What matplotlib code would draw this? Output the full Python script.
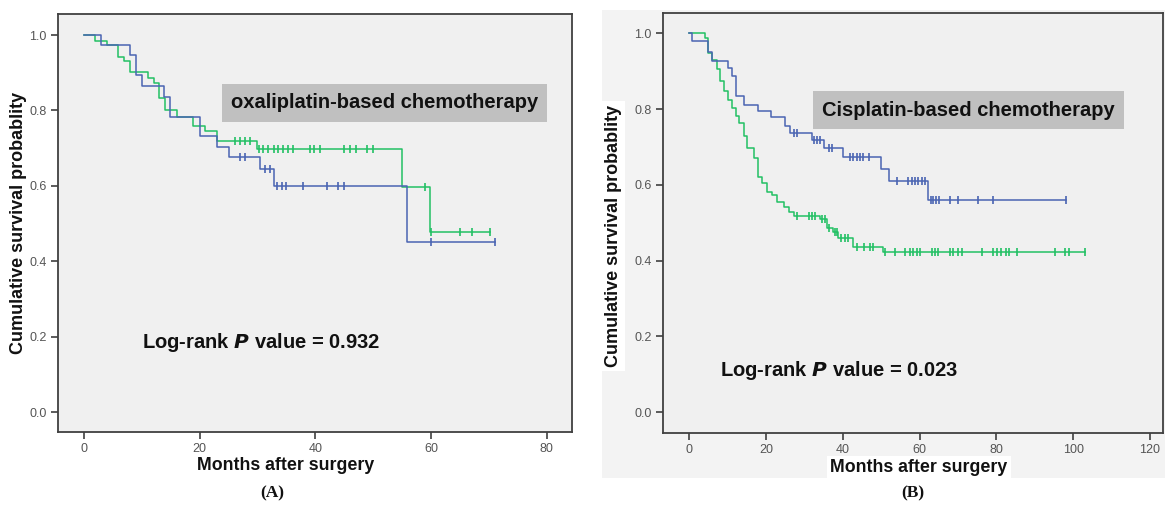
import matplotlib
matplotlib.use("Agg")
import matplotlib.pyplot as plt
from matplotlib.patches import Rectangle

plt.rcParams['font.family'] = ['Liberation Sans', 'DejaVu Sans']

# ---------------- Panel A data (oxaliplatin) ----------------
a_green_t = [0, 1.9, 3.9, 5.9, 7.0, 8.0, 11.1, 12.1, 13.0, 14.0, 16.0, 18.9, 20.9, 23.0, 29.9, 55.0, 59.9]
a_green_s = [1.0, 0.985, 0.973, 0.943, 0.930, 0.901, 0.886, 0.873, 0.833, 0.802, 0.784, 0.758, 0.745, 0.718, 0.698, 0.598, 0.478]
a_green_end = 70.2
a_green_cens = [26.1, 27.0, 27.9, 28.7, 30.2, 31.0, 31.9, 32.8, 33.6, 34.5, 35.3, 36.1, 39.0, 39.8, 40.8,
                45.0, 46.0, 47.1, 48.9, 49.9, 59.0, 60.0, 65.1, 67.1, 70.2]

a_blue_t = [0, 2.9, 8.0, 9.0, 10.0, 13.8, 14.9, 20.1, 23.0, 25.0, 30.4, 32.8, 55.8]
a_blue_s = [1.0, 0.973, 0.948, 0.895, 0.864, 0.837, 0.784, 0.731, 0.704, 0.677, 0.644, 0.600, 0.450]
a_blue_end = 71.1
a_blue_cens = [27.0, 27.9, 31.3, 32.2, 33.3, 34.2, 35.0, 37.9, 42.0, 44.0, 44.9, 60.0, 71.1]

# ---------------- Panel B data (cisplatin) ----------------
b_green_t = [0, 4.2, 5.0, 5.9, 7.2, 8.0, 9.2, 10.1, 11.1, 12.2, 13.1, 14.2, 15.0, 16.8, 18.0, 19.0,
             20.2, 21.5, 23.0, 24.6, 25.9, 27.2, 34.1, 35.9, 37.4, 38.9, 42.6, 50.6]
b_green_s = [1.0, 0.988, 0.949, 0.931, 0.905, 0.874, 0.847, 0.825, 0.803, 0.781, 0.764, 0.728, 0.697, 0.671, 0.620, 0.604,
             0.582, 0.573, 0.556, 0.542, 0.529, 0.518, 0.510, 0.486, 0.476, 0.459, 0.437, 0.424]
b_green_end = 103.1
b_green_cens = [28.0, 31.1, 31.9, 32.8, 34.6, 35.3, 36.5, 37.9, 38.4, 39.5, 40.6, 41.5, 43.7, 45.6, 47.1, 48.0,
                51.0, 53.6, 56.3, 57.4, 58.4, 59.3, 60.2, 63.2, 64.1, 64.9, 68.0, 68.8, 70.1, 71.0, 76.2,
                79.2, 80.3, 81.3, 82.4, 83.2, 85.3, 95.3, 97.9, 99.0, 103.1]

b_blue_t = [0, 0.7, 5.0, 6.0, 10.1, 11.1, 12.2, 14.2, 18.0, 21.4, 25.0, 26.3, 31.9, 35.2, 40.2, 50.0, 52.0, 62.1]
b_blue_s = [1.0, 0.979, 0.952, 0.927, 0.909, 0.887, 0.834, 0.812, 0.794, 0.779, 0.755, 0.738, 0.718, 0.697, 0.674, 0.641, 0.611, 0.561]
b_blue_end = 98.2
b_blue_cens = [27.2, 28.0, 32.4, 33.2, 34.1, 36.3, 37.2, 42.0, 42.8, 43.7, 44.5, 45.4, 46.9,
               54.1, 57.1, 58.0, 58.9, 59.7, 60.6, 61.5, 62.9, 63.6, 64.3, 65.2, 68.0, 70.1, 75.1, 79.1, 98.2]

y_ticks = [0.0, 0.2, 0.4, 0.6, 0.8, 1.0]
a_x_ticks = [0, 20, 40, 60, 80]
b_x_ticks = [0, 20, 40, 60, 80, 100, 120]

GREEN = '#22c064'
BLUE = '#4a64b2'
W, H = 1165, 505


def surv_at(ts, ss, t):
    val = ss[0]
    for ti, si in zip(ts, ss):
        if ti <= t:
            val = si
    return val


def draw_curve(ax, ts, ss, end, cens, color):
    x = list(ts) + [end]
    y = list(ss) + [ss[-1]]
    ax.step(x, y, where='post', color=color, lw=1.1, zorder=3)
    cy = [surv_at(ts, ss, c) for c in cens]
    ax.plot(cens, cy, ls='none', marker='|', ms=6, mew=1.2, color=color, zorder=4)


def style_axes(ax, xticks, xlim, ylim):
    ax.set_facecolor('#f0f0f0')
    ax.set_xlim(*xlim)
    ax.set_ylim(*ylim)
    ax.set_xticks(xticks)
    ax.set_yticks(y_ticks)
    ax.set_yticklabels([f"{v:.1f}" for v in y_ticks])
    for s in ax.spines.values():
        s.set_color('#404040')
        s.set_linewidth(1.3)
    ax.tick_params(axis='both', direction='out', length=5, width=1.2, color='#404040',
                   labelsize=9, labelcolor='#555555', pad=3)


fig = plt.figure(figsize=(W / 100, H / 100), dpi=100)
fig.patch.set_facecolor('white')

# light grey background behind panel B
bg = Rectangle((602 / W, 1 - 478 / H), (W - 602) / W, (478 - 10) / H,
               transform=fig.transFigure, facecolor='#f3f3f3', edgecolor='none', zorder=-10)
fig.patches.append(bg)

# ---------------- Panel A ----------------
axA = fig.add_axes([58 / W, 1 - 432 / H, (572 - 58) / W, (432 - 14) / H])
style_axes(axA, a_x_ticks, (-4.5, 84.4), (-0.053, 1.056))
draw_curve(axA, a_green_t, a_green_s, a_green_end, a_green_cens, GREEN)
draw_curve(axA, a_blue_t, a_blue_s, a_blue_end, a_blue_cens, BLUE)
axA.text(231 / W, 1 - 103 / H, "oxaliplatin-based chemotherapy", transform=fig.transFigure,
         fontsize=14.5, fontweight='bold', color='#111111', va='center', ha='left',
         bbox=dict(boxstyle='square,pad=0.45', facecolor='#c0c0c0', edgecolor='none'), zorder=5)
axA.text(142 / W, 1 - 343 / H, "Log-rank $\\bfit{P}$ value = 0.932", transform=fig.transFigure,
         fontsize=14.5, fontweight='bold', color='#111111', va='center', ha='left')

fig.text(19 / W, 1 - 223 / H, "Cumulative survival probablity", rotation=90, fontsize=13,
         fontweight='bold', va='center', ha='center', color='#111111')
fig.text(286 / W, 1 - 466 / H, "Months after surgery", fontsize=12.8, fontweight='bold',
         va='center', ha='center', color='#111111')
fig.text(272 / W, 1 - 493 / H, "(A)", fontsize=12.5, fontweight='bold', family='Liberation Serif',
         va='center', ha='center', color='#111111')

# ---------------- Panel B ----------------
axB = fig.add_axes([663 / W, 1 - 433 / H, (1163 - 663) / W, (433 - 13) / H])
style_axes(axB, b_x_ticks, (-6.8, 123.4), (-0.055, 1.054))
draw_curve(axB, b_green_t, b_green_s, b_green_end, b_green_cens, GREEN)
draw_curve(axB, b_blue_t, b_blue_s, b_blue_end, b_blue_cens, BLUE)
axB.text(822 / W, 1 - 110 / H, "Cisplatin-based chemotherapy", transform=fig.transFigure,
         fontsize=14.5, fontweight='bold', color='#111111', va='center', ha='left',
         bbox=dict(boxstyle='square,pad=0.45', facecolor='#c0c0c0', edgecolor='none'), zorder=5)
axB.text(720 / W, 1 - 370 / H, "Log-rank $\\bfit{P}$ value = 0.023", transform=fig.transFigure,
         fontsize=14.5, fontweight='bold', color='#111111', va='center', ha='left')

fig.text(613 / W, 1 - 236 / H, "Cumulative survival probablity", rotation=90, fontsize=13,
         fontweight='bold', va='center', ha='center', color='#111111',
         bbox=dict(boxstyle='square,pad=0.2', facecolor='white', edgecolor='none'))
fig.text(919 / W, 1 - 468 / H, "Months after surgery", fontsize=12.8, fontweight='bold',
         va='center', ha='center', color='#111111',
         bbox=dict(boxstyle='square,pad=0.2', facecolor='white', edgecolor='none'))
fig.text(913 / W, 1 - 493 / H, "(B)", fontsize=12.5, fontweight='bold', family='Liberation Serif',
         va='center', ha='center', color='#111111')

fig.savefig('out.png', dpi=100)
